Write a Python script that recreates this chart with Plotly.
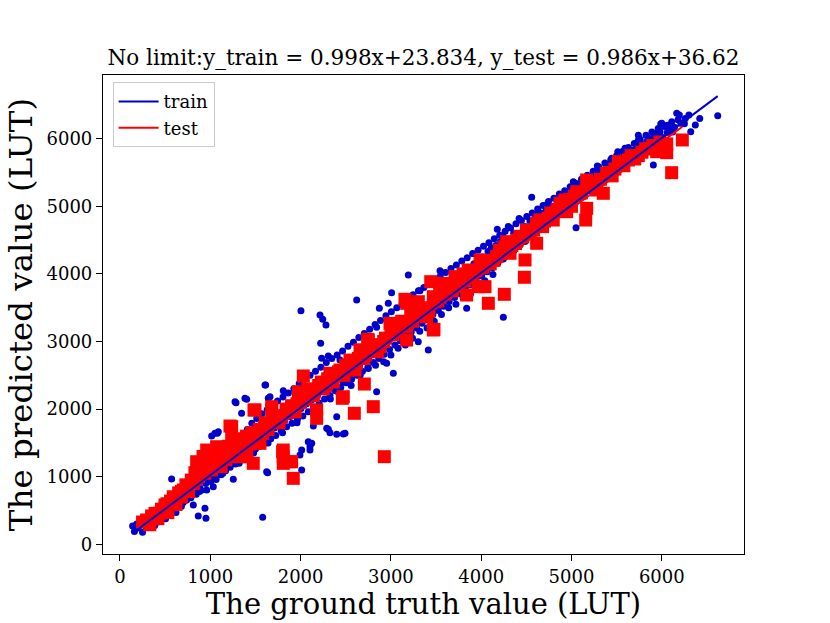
import plotly.graph_objects as go

# regression coefficients shown in the title
train_slope, train_icpt = 0.998, 23.834
test_slope, test_icpt = 0.986, 36.62

# training set: (ground truth, predicted)
train_pairs = [
    (140, 270), (160, 190), (185, 300), (205, 240), (230, 330), (250, 180), (265, 380), (290, 260),
    (310, 410), (325, 300), (350, 450), (365, 330), (385, 280), (405, 500), (425, 410), (445, 350),
    (470, 560), (485, 430), (505, 380), (525, 610), (545, 500), (560, 440), (572, 966), (585, 680),
    (600, 540), (620, 470), (640, 730), (660, 610), (680, 560), (700, 800), (720, 660), (738, 655),
    (745, 860), (765, 720), (785, 690), (800, 900), (812, 581), (825, 780), (845, 740), (862, 980),
    (867, 419), (880, 850), (900, 800), (920, 1060), (941, 532), (950, 900), (952, 385), (960, 803),
    (970, 1120), (990, 980), (1005, 930), (1015, 1602), (1025, 1170), (1033, 852), (1045, 1020),
    (1052, 1642), (1065, 960), (1078, 1642), (1085, 1240), (1089, 1666), (1100, 1090), (1120, 1030),
    (1135, 1320), (1150, 1160), (1170, 1090), (1185, 1400), (1200, 1220), (1220, 1140), (1240, 1470),
    (1255, 961), (1260, 1280), (1274, 2110), (1280, 1190), (1285, 2095), (1300, 1560), (1315, 1330),
    (1335, 1250), (1347, 1938), (1355, 1620), (1370, 1380), (1384, 2160), (1390, 1300), (1403, 2145),
    (1410, 1700), (1425, 1440), (1445, 1360), (1460, 1790), (1480, 1490), (1500, 1410), (1515, 1860),
    (1535, 1560), (1550, 1450), (1570, 1930), (1580, 400), (1590, 1610), (1606, 2357), (1613, 2357),
    (1610, 1500), (1624, 1074), (1630, 1990), (1635, 1060), (1642, 2160), (1650, 1660), (1661, 2183),
    (1670, 1560), (1690, 2060), (1710, 1720), (1725, 1610), (1745, 2120), (1765, 1780), (1785, 1680),
    (1808, 2272), (1805, 2180), (1825, 1840), (1845, 1740), (1865, 2240), (1885, 1890), (1905, 1790),
    (1925, 2300), (1945, 1960), (1965, 1850), (1993, 1321), (1985, 2380), (2004, 3456), (2005, 2010),
    (2012, 1395), (2012, 1099), (2025, 1900), (2045, 2440), (2065, 2080), (2085, 1518), (2085, 1960),
    (2104, 1444), (2104, 1395), (2105, 2500), (2123, 1494), (2125, 2140), (2141, 1750), (2145, 2030),
    (2165, 2560), (2185, 2200), (2205, 2090), (2215, 3392), (2222, 2973), (2225, 2620), (2233, 2751),
    (2245, 3328), (2245, 2260), (2265, 2150), (2281, 3244), (2285, 2690), (2289, 1716), (2305, 2330),
    (2307, 2785), (2307, 1701), (2325, 1651), (2325, 2200), (2345, 2750), (2365, 2390), (2385, 2270),
    (2400, 1627), (2400, 1888), (2405, 2800), (2425, 2450), (2436, 2726), (2445, 2320), (2473, 1632),
    (2465, 2860), (2492, 1642), (2485, 2510), (2505, 2390), (2525, 2930), (2545, 2570), (2565, 2440),
    (2585, 2990), (2605, 2640), (2621, 3614), (2625, 2500), (2645, 3060), (2665, 2700), (2685, 2560),
    (2705, 3120), (2725, 2760), (2745, 2620), (2765, 3180), (2785, 2830), (2805, 2690), (2825, 3250),
    (2842, 3210), (2842, 2257), (2845, 2890), (2865, 2750), (2872, 3491), (2885, 3310), (2905, 2950),
    (2925, 2810), (2945, 3380), (2953, 2678), (2965, 3020), (2971, 3565), (2985, 2880), (3008, 3722),
    (3005, 3440), (3027, 2530), (3025, 3080), (3045, 2950), (3065, 3500), (3085, 3150), (3105, 3010),
    (3125, 3560), (3145, 3210), (3165, 3080), (3193, 3983), (3185, 3630), (3205, 3280), (3225, 3140),
    (3245, 3690), (3265, 3340), (3285, 3200), (3303, 2997), (3305, 3750), (3322, 3751), (3325, 3410),
    (3345, 3270), (3365, 3800), (3385, 3470), (3405, 3330), (3414, 2874), (3425, 3860), (3445, 3540),
    (3465, 3400), (3485, 3910), (3505, 3600), (3525, 3460), (3544, 4047), (3545, 3960), (3565, 3660),
    (3585, 3520), (3605, 4020), (3625, 3720), (3645, 3590), (3665, 4080), (3685, 3790), (3705, 3650),
    (3725, 4130), (3745, 3850), (3765, 3710), (3785, 4190), (3805, 3910), (3825, 3780), (3839, 3491),
    (3845, 4240), (3865, 3980), (3885, 3840), (3905, 4300), (3925, 4040), (3945, 3900), (3965, 4350),
    (3985, 4100), (4005, 3970), (4025, 4410), (4045, 4160), (4065, 4030), (4085, 4460), (4105, 4220),
    (4125, 4090), (4145, 4520), (4165, 4290), (4178, 4660), (4185, 4160), (4205, 4570), (4225, 4350),
    (4245, 3358), (4245, 4220), (4265, 4630), (4285, 4410), (4305, 4290), (4325, 4680), (4345, 4470),
    (4365, 4350), (4385, 4740), (4405, 4530), (4425, 4420), (4445, 4790), (4465, 4600), (4485, 4480),
    (4505, 4850), (4525, 4660), (4545, 4550), (4559, 5133), (4565, 4900), (4585, 4720), (4605, 4610),
    (4625, 4960), (4645, 4780), (4665, 4680), (4685, 5010), (4705, 4850), (4718, 5020), (4725, 4740),
    (4745, 5070), (4765, 4910), (4785, 4810), (4805, 5120), (4825, 4970), (4845, 4870), (4865, 5180),
    (4885, 5040), (4905, 4940), (4925, 5230), (4945, 5100), (4965, 5000), (4985, 5290), (5005, 5160),
    (5020, 5364), (5025, 5070), (5050, 4684), (5045, 5340), (5065, 5220), (5085, 5130), (5110, 5400),
    (5130, 5280), (5150, 5200), (5175, 5460), (5195, 5350), (5215, 5260), (5240, 5520), (5260, 5410),
    (5280, 5330), (5286, 5596), (5297, 5537), (5305, 5580), (5325, 5470), (5345, 5390), (5370, 5640),
    (5390, 5540), (5410, 5460), (5435, 5690), (5445, 5710), (5455, 5600), (5475, 5520), (5500, 5750),
    (5512, 5808), (5520, 5660), (5540, 5590), (5565, 5810), (5592, 5858), (5585, 5730), (5605, 5650),
    (5630, 5870), (5650, 5790), (5670, 5720), (5695, 5930), (5715, 5850), (5740, 6050), (5740, 5976),
    (5735, 5780), (5760, 5990), (5780, 5910), (5800, 5840), (5833, 5956), (5825, 6050), (5845, 5970),
    (5865, 5900), (5890, 6100), (5906, 5611), (5910, 6030), (5935, 5960), (5960, 6150), (5988, 6217),
    (5999, 6228), (5980, 6104), (6000, 6020), (6030, 6180), (6060, 6090), (6091, 6154), (6110, 6250),
    (6140, 6170), (6165, 6376), (6194, 6351), (6210, 6230), (6260, 6300), (6320, 6104), (6371, 6203),
    (6619, 6340),
    # extra points filling the band
    (300, 340), (420, 330), (520, 430), (610, 700), (700, 620), (790, 860), (880, 780), (980, 1160),
    (1060, 1100), (1140, 1050), (1230, 1350), (1320, 1200), (1400, 1500), (1480, 1350), (1560, 1700),
    (1640, 1500), (1720, 1850), (1800, 1650), (1880, 2050), (1960, 1800), (2040, 2200),
    (2150, 2000), (2200, 2400), (2260, 2450), (2330, 2150), (2380, 2500), (2420, 2250), (2470, 2400),
    (2520, 2600), (2560, 2350), (2610, 2750), (2660, 2500), (2700, 2850), (2750, 2600), (2790, 2950),
    (2830, 2650), (2880, 3000), (2920, 2700), (2960, 3100), (3000, 2800), (3040, 3200), (3080, 2900),
    (3120, 3250), (3160, 2950), (3200, 3350), (3240, 3050), (3280, 3450), (3320, 3150), (3360, 3500),
    (3400, 3200), (3440, 3600), (3480, 3300), (3520, 3700), (3560, 3400), (3600, 3800), (3640, 3500),
    (3680, 3900), (3720, 3550), (3760, 3950), (3800, 3650), (3840, 4050), (3880, 3700), (3920, 4150),
    (3960, 3800), (4010, 4250), (4040, 3900), (4075, 4330), (4110, 4380), (4130, 3990), (4160, 4420),
    (4190, 4330), (4215, 4480), (4240, 4560), (4270, 4330), (4300, 4700), (4330, 4390), (4360, 4600),
    (4395, 4500), (4420, 4820), (4450, 4540), (4480, 4700), (4510, 4590), (4540, 4780), (4570, 4640),
    (4600, 4870), (4630, 4650), (4660, 4900), (4690, 4760), (4720, 4950), (4750, 4790), (4780, 5000),
    (4810, 4880), (4840, 5090), (4870, 4910), (4900, 5150), (4930, 4980), (4960, 5210), (4990, 5050),
    (5030, 5260), (5060, 5110), (5090, 5330), (5120, 5150), (5160, 5390), (5190, 5230), (5230, 5440),
    (5270, 5310), (5320, 5500), (5360, 5400), (5400, 5610), (5440, 5480), (5480, 5680), (5530, 5550),
    (5570, 5720), (5610, 5600), (5660, 5830), (5700, 5740), (5750, 5900), (5790, 5820), (5850, 6010),
    (5900, 5900), (5950, 6090), (6010, 6000), (6060, 6200), (6120, 6100), (6180, 6280), (6250, 6220),
    (6300, 6350), (6420, 6300),
]

# test set: (ground truth, predicted)
test_pairs = [
    (250, 330), (295, 360), (330, 290), (388, 458), (420, 380), (460, 520), (498, 581), (530, 470),
    (560, 640), (590, 704), (620, 590), (650, 760), (680, 700), (701, 803), (730, 880), (760, 780),
    (790, 950), (812, 902), (830, 1060), (849, 1222), (870, 1000), (900, 1150), (920, 1300), (940, 1050),
    (960, 1395), (960, 1148), (990, 1250), (1010, 1100), (1030, 1330), (1050, 1200), (1070, 1444),
    (1070, 1198), (1100, 1300), (1120, 1150), (1150, 1380), (1170, 1250), (1200, 1450), (1218, 1750),
    (1237, 1740), (1237, 1568), (1260, 1350), (1290, 1480), (1310, 1300), (1329, 1296), (1340, 1560),
    (1370, 1420), (1400, 1600), (1403, 1296), (1430, 1480), (1460, 1650), (1476, 1198), (1484, 1987),
    (1495, 1987), (1510, 1560), (1540, 1700), (1550, 1494), (1580, 1640), (1610, 1800), (1640, 1700),
    (1680, 1987), (1680, 2036), (1700, 1820), (1740, 1900), (1772, 1888), (1790, 1888), (1801, 1370),
    (1808, 1296), (1808, 1395), (1808, 1198), (1840, 2000), (1883, 1222), (1901, 1222), (1919, 976),
    (1900, 2050), (1940, 1960), (1975, 2257), (2000, 2100), (2030, 2490), (2060, 2150), (2100, 2250),
    (2140, 2200), (2178, 1987), (2178, 1864), (2200, 2350), (2250, 2300), (2300, 2450), (2325, 2530),
    (2360, 2400), (2400, 2500), (2436, 2578), (2462, 2160), (2473, 2183), (2500, 2650), (2547, 2726),
    (2560, 2600), (2595, 1938), (2603, 2578), (2640, 2750), (2658, 2874), (2676, 2874), (2706, 2371),
    (2720, 2800), (2743, 3033), (2750, 3022), (2805, 2036), (2800, 2950), (2850, 2850), (2879, 2923),
    (2927, 1296), (2940, 3050), (2990, 3269), (3020, 3100), (3082, 3219), (3120, 3300), (3156, 3624),
    (3174, 3022), (3174, 3565), (3174, 3219), (3220, 3400), (3285, 3515), (3304, 3589), (3340, 3450),
    (3396, 3367), (3441, 3885), (3470, 3663), (3470, 3170), (3477, 3180), (3507, 3614), (3540, 3700),
    (3580, 3861), (3620, 3750), (3660, 3850), (3710, 3959), (3760, 3900), (3800, 4000), (3839, 3688),
    (3857, 4058), (3900, 4000), (3968, 3811), (3987, 4206), (4042, 3811), (4079, 3565), (4100, 4150),
    (4171, 4255), (4220, 4300), (4256, 3698), (4282, 4477), (4319, 4305), (4380, 4450), (4430, 4556),
    (4478, 3950), (4485, 4206), (4540, 4600), (4614, 4749), (4614, 4453), (4680, 4700), (4740, 4820),
    (4798, 4797), (4873, 5044), (4928, 5093), (4946, 4920), (5000, 5000), (5058, 5216), (5094, 5192),
    (5157, 4797), (5168, 5389), (5168, 4970), (5224, 5340), (5279, 5241), (5352, 5192), (5390, 5488),
    (5450, 5450), (5519, 5660), (5580, 5600), (5630, 5685), (5700, 5700), (5780, 5800), (5860, 5850),
    (5943, 5808), (6054, 5923), (6054, 5793), (6109, 5497), (6227, 5981),
    # extra squares filling the band
    (350, 420), (440, 460), (520, 600), (600, 660), (680, 780), (760, 860), (840, 960), (880, 1100),
    (1000, 1180), (1090, 1260), (1180, 1350), (1280, 1420), (1360, 1500), (1440, 1560), (1520, 1620),
    (1600, 1720), (1700, 1900), (1760, 1800), (1860, 1950), (1960, 2080), (2080, 2300), (2150, 2250),
    (2230, 2400), (2280, 2350), (2350, 2500), (2420, 2550), (2480, 2500), (2530, 2650), (2620, 2680),
    (2700, 2750), (2780, 2850), (2860, 2950), (2920, 3000), (3000, 3150), (3060, 3150), (3140, 3250),
    (3240, 3300), (3300, 3400), (3380, 3500), (3420, 3450), (3520, 3600), (3600, 3700), (3680, 3750),
    (3740, 3820), (3820, 3900), (3880, 3950), (3940, 4050), (4020, 4100), (4060, 4200), (4140, 4200),
    (4200, 4350), (4260, 4400), (4340, 4420), (4400, 4500), (4460, 4550), (4500, 4650), (4580, 4650),
    (4650, 4800), (4700, 4780), (4770, 4900), (4840, 4950), (4900, 5000), (4980, 5100), (5030, 5150),
    (5110, 5200), (5200, 5300), (5260, 5350), (5320, 5400), (5420, 5500), (5480, 5550), (5550, 5650),
    (5660, 5750), (5740, 5750), (5820, 5850), (5900, 5900), (5980, 5950),
]

train_true = [p[0] for p in train_pairs]
train_pred = [p[1] for p in train_pairs]
test_true = [p[0] for p in test_pairs]
test_pred = [p[1] for p in test_pairs]

blue = "#0000cd"
red = "#ff0000"
font = "DejaVu Serif"

# fitted lines over the range of each set
tr_x = [min(train_true), max(train_true)]
tr_y = [train_slope * v + train_icpt for v in tr_x]
te_x = [min(test_true), max(test_true)]
te_y = [test_slope * v + test_icpt for v in te_x]

data = [
    go.Scatter(x=train_true, y=train_pred, mode="markers", showlegend=False,
               marker=dict(color=blue, size=7, line=dict(width=0))),
    go.Scatter(x=test_true, y=test_pred, mode="markers", showlegend=False,
               marker=dict(color=red, size=13, symbol="square", line=dict(width=0))),
    go.Scatter(x=te_x, y=te_y, mode="lines", name="test", legendrank=2,
               line=dict(color=red, width=2)),
    go.Scatter(x=tr_x, y=tr_y, mode="lines", name="train", legendrank=1,
               line=dict(color=blue, width=2)),
]

axis_common = dict(showgrid=False, zeroline=False, showline=True, mirror=True,
                   linecolor="black", linewidth=1.2, ticks="outside", ticklen=6,
                   tickwidth=1.2, tickcolor="black", dtick=1000, automargin=False,
                   tickfont=dict(family=font, size=18, color="black"))

layout = go.Layout(
    width=830, height=623,
    paper_bgcolor="white", plot_bgcolor="white",
    margin=dict(l=103, r=86, t=75, b=69),
    title=dict(text="No limit:y_train = 0.998x+23.834, y_test = 0.986x+36.62",
               x=0.5, xref="paper", y=1 - 57 / 623, yanchor="middle",
               font=dict(family=font, size=21.5, color="black")),
    xaxis=dict(axis_common, range=[-188, 6910], tick0=0,
               title=dict(text="The ground truth value (LUT)", standoff=6,
                          font=dict(family=font, size=29, color="black"))),
    yaxis=dict(axis_common, range=[-143, 6942], tick0=0,
               title=dict(text="The predicted value (LUT)", standoff=4,
                          font=dict(family=font, size=32.5, color="black"))),
    legend=dict(x=0.015, y=0.985, xanchor="left", yanchor="top",
                bgcolor="white", bordercolor="#cccccc", borderwidth=1,
                font=dict(family=font, size=18, color="black"), itemwidth=40),
)

fig = go.Figure(data=data, layout=layout)
# drop the page's default body margin so the figure sits at the window's corner
fig.write_html("out.html", config={"displayModeBar": False},
               post_script="document.body.style.margin='0';")
